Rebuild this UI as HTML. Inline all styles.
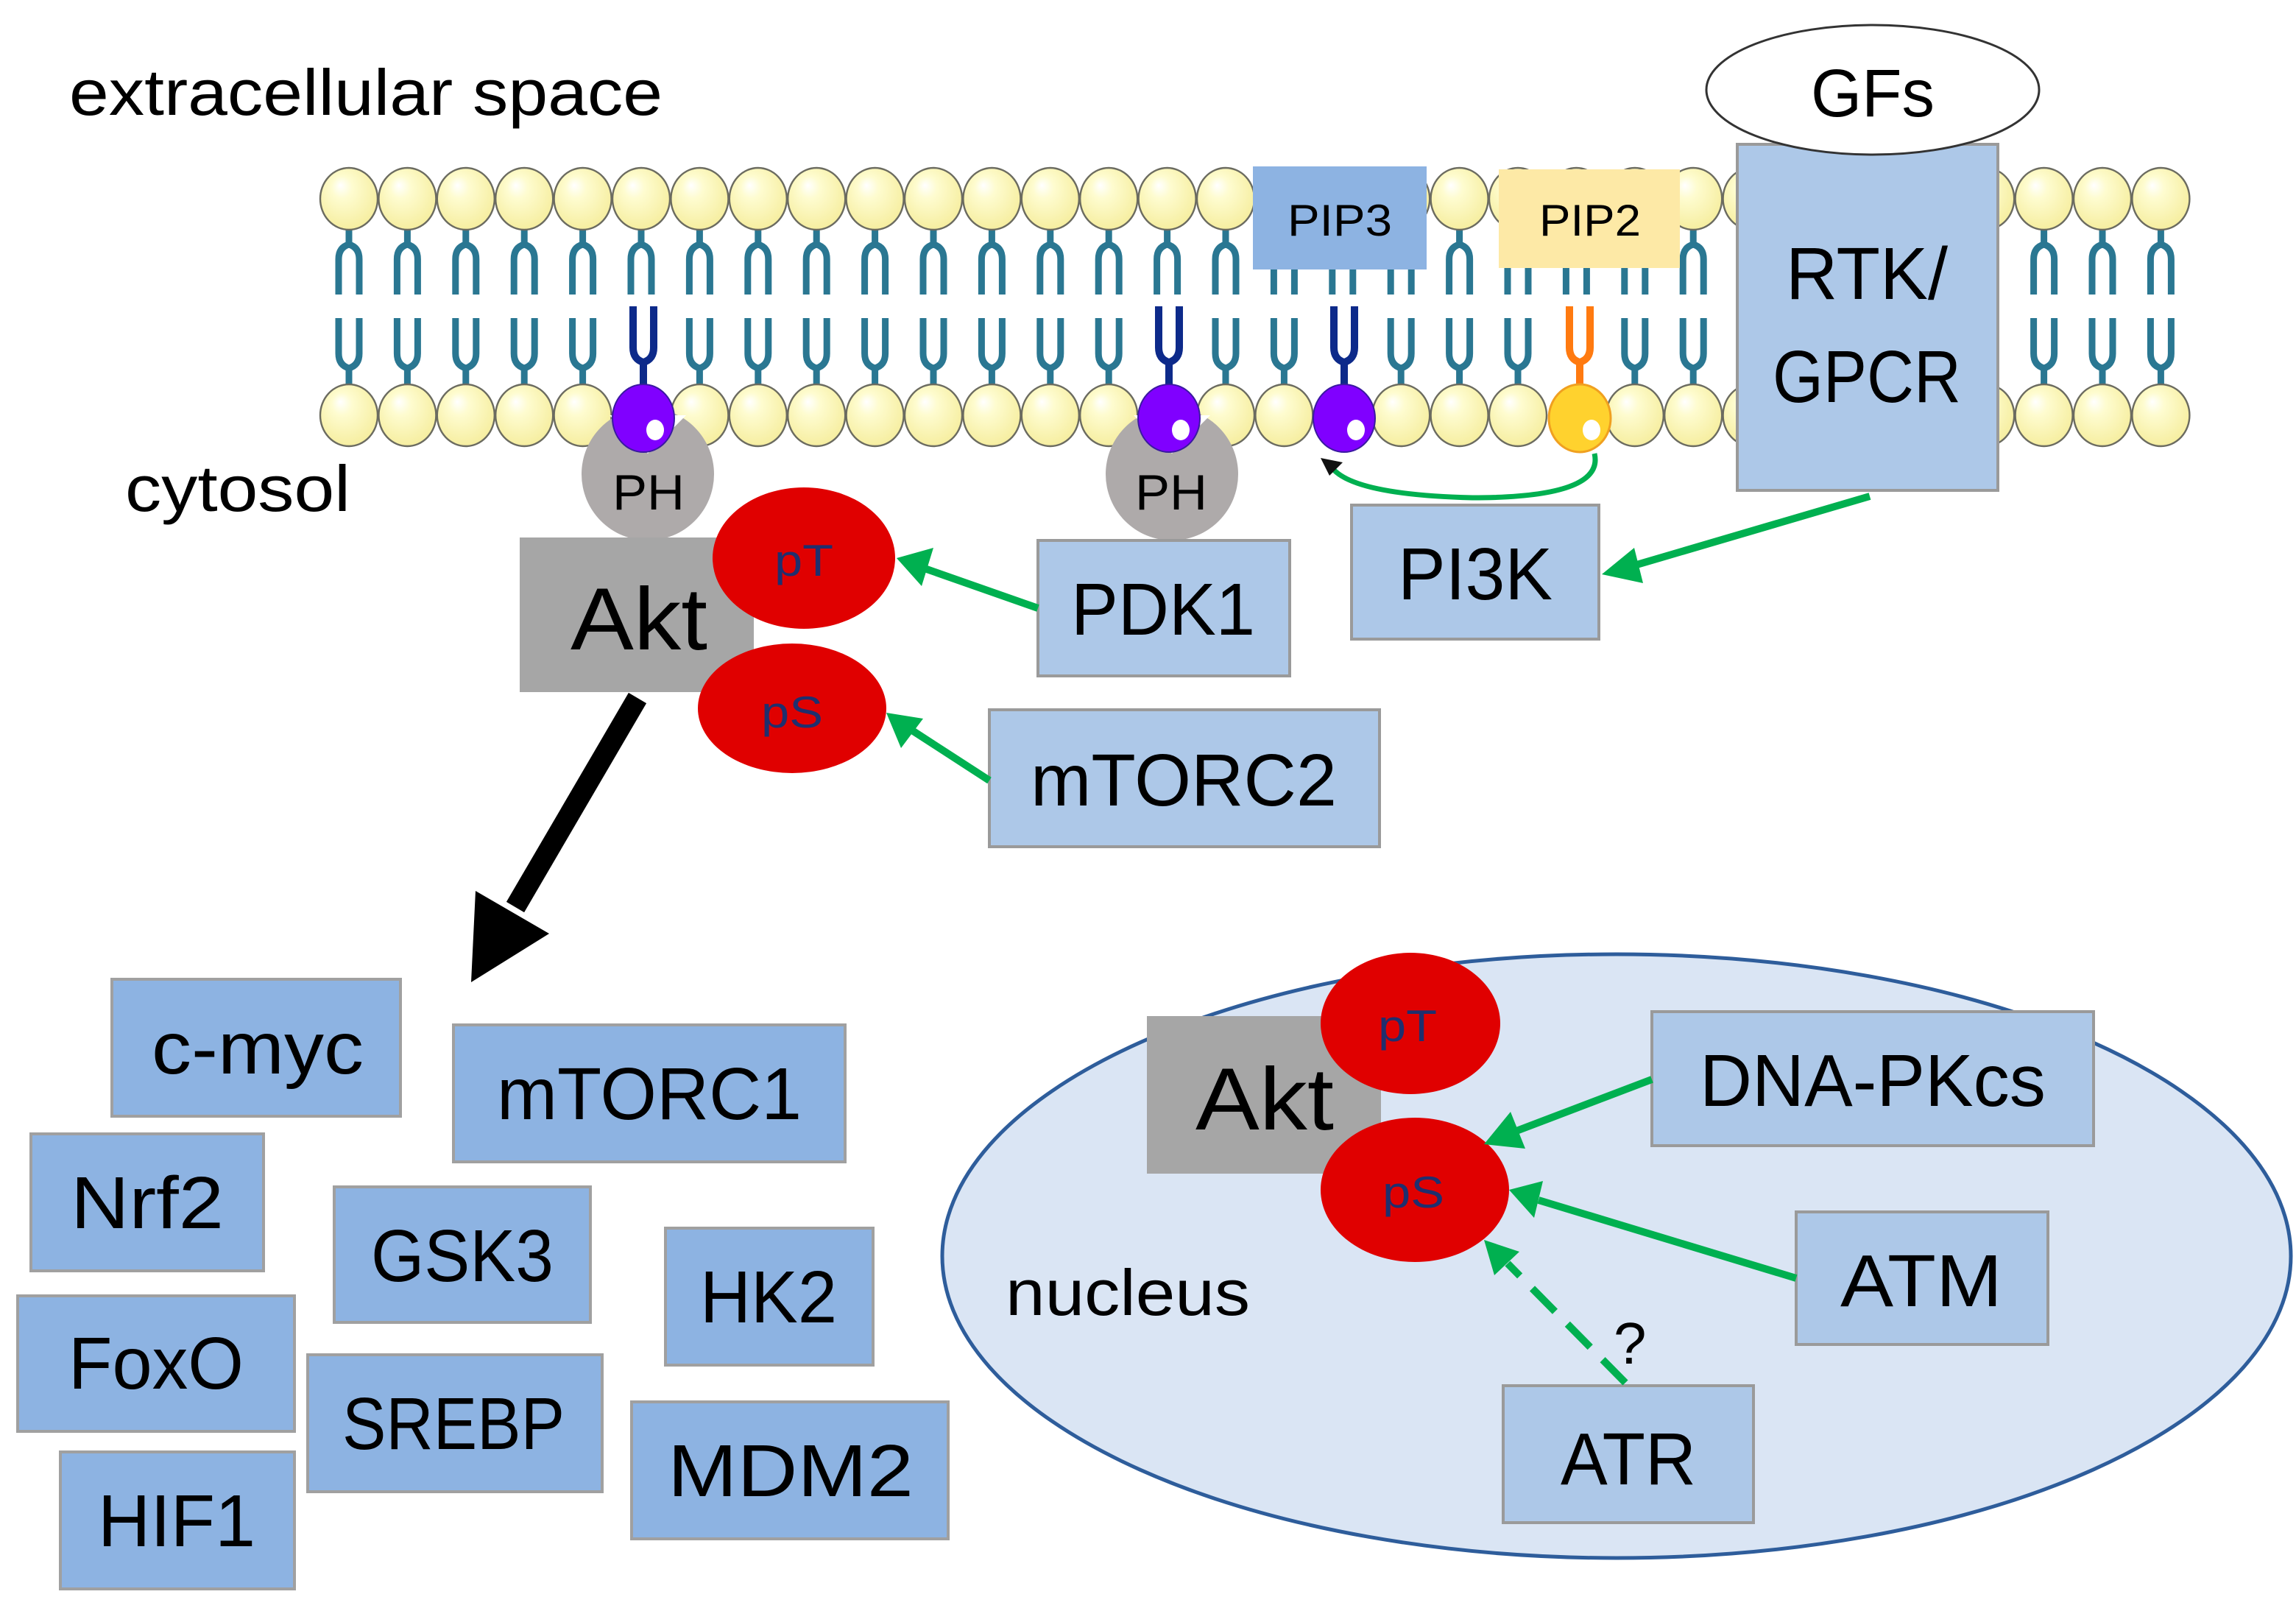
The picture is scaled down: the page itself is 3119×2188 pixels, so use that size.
<!DOCTYPE html>
<html><head><meta charset="utf-8"><style>html,body{margin:0;padding:0;background:#fff}svg{display:block}</style></head>
<body>
<svg width="3119" height="2188" viewBox="0 0 1559.5 1094" xmlns="http://www.w3.org/2000/svg" font-family="Liberation Sans, sans-serif">
<defs>
<radialGradient id="hg" cx="0.45" cy="0.4" r="0.6" fx="0.35" fy="0.28">
<stop offset="0" stop-color="#ffffff"/><stop offset="0.3" stop-color="#fefcd0"/><stop offset="1" stop-color="#f6eea0"/></radialGradient>
<g id="lt">
<path d="M0,150 V168 M-7,200 V176 Q-7,168 0,166 Q7,168 7,176 V200" stroke="#2a7792" stroke-width="4.5" fill="none"/>
<ellipse cx="0" cy="135" rx="19.5" ry="21" fill="url(#hg)" stroke="#6b6b60" stroke-width="1.2"/>
</g>
<g id="lb">
<path d="M0,264 V248 M-7,216 V240 Q-7,248 0,250 Q7,248 7,240 V216" stroke="#2a7792" stroke-width="4.5" fill="none"/>
<ellipse cx="0" cy="282" rx="19.5" ry="21" fill="url(#hg)" stroke="#6b6b60" stroke-width="1.2"/>
</g>
<g id="lp">
<path d="M0,268 V244 M-7,208 V236 Q-7,244 0,246 Q7,244 7,236 V208" stroke="#0d2a8a" stroke-width="5" fill="none"/>
<ellipse cx="0" cy="284" rx="21" ry="23" fill="#8000ff" stroke="#3a1aa0" stroke-width="1"/>
<ellipse cx="8" cy="292" rx="6" ry="7" fill="#fff"/>
</g>
</defs>

<text x="47" y="78" font-size="44" textLength="403" lengthAdjust="spacingAndGlyphs">extracellular space</text>
<text x="85" y="347" font-size="44" textLength="153" lengthAdjust="spacingAndGlyphs">cytosol</text>

<g>
<use href="#lt" x="237"/><use href="#lt" x="276.7"/><use href="#lt" x="316.4"/><use href="#lt" x="356.1"/><use href="#lt" x="395.8"/><use href="#lt" x="435.5"/><use href="#lt" x="475.2"/><use href="#lt" x="514.9"/><use href="#lt" x="554.6"/><use href="#lt" x="594.3"/><use href="#lt" x="634"/><use href="#lt" x="673.7"/><use href="#lt" x="713.4"/><use href="#lt" x="753.1"/><use href="#lt" x="792.8"/><use href="#lt" x="832.5"/><use href="#lt" x="872.2"/><use href="#lt" x="911.9"/><use href="#lt" x="951.6"/><use href="#lt" x="991.3"/><use href="#lt" x="1031"/><use href="#lt" x="1070.7"/><use href="#lt" x="1110.4"/><use href="#lt" x="1150.1"/><use href="#lt" x="1189.8"/><use href="#lt" x="1229.5"/><use href="#lt" x="1269.2"/><use href="#lt" x="1308.9"/><use href="#lt" x="1348.6"/><use href="#lt" x="1388.3"/><use href="#lt" x="1428"/><use href="#lt" x="1467.7"/>
<use href="#lb" x="237"/><use href="#lb" x="276.7"/><use href="#lb" x="316.4"/><use href="#lb" x="356.1"/><use href="#lb" x="395.8"/><use href="#lb" x="475.2"/><use href="#lb" x="514.9"/><use href="#lb" x="554.6"/><use href="#lb" x="594.3"/><use href="#lb" x="634"/><use href="#lb" x="673.7"/><use href="#lb" x="713.4"/><use href="#lb" x="753.1"/><use href="#lb" x="832.5"/><use href="#lb" x="872.2"/><use href="#lb" x="951.6"/><use href="#lb" x="991.3"/><use href="#lb" x="1031"/><use href="#lb" x="1110.4"/><use href="#lb" x="1150.1"/><use href="#lb" x="1189.8"/><use href="#lb" x="1229.5"/><use href="#lb" x="1269.2"/><use href="#lb" x="1308.9"/><use href="#lb" x="1348.6"/><use href="#lb" x="1388.3"/><use href="#lb" x="1428"/><use href="#lb" x="1467.7"/>
</g>

<circle cx="440" cy="322" r="45" fill="#aeaaaa"/>
<circle cx="796" cy="322" r="45" fill="#aeaaaa"/>
<path d="M414,282 L440,308 L466,282 Z" fill="#fff"/>
<path d="M770,282 L796,308 L822,282 Z" fill="#fff"/>
<use href="#lp" x="437"/>
<use href="#lp" x="794"/>
<use href="#lp" x="913"/>
<path d="M1073,268 V244 M1066,208 V236 Q1066,244 1073,246 Q1080,244 1080,236 V208" stroke="#ff7a10" stroke-width="5" fill="none"/>
<ellipse cx="1073" cy="284" rx="21" ry="23" fill="#ffd22e" stroke="#f0a020" stroke-width="1.5"/>
<ellipse cx="1081" cy="292" rx="6" ry="7" fill="#fff"/>
<text x="416" y="346" font-size="34" textLength="49" lengthAdjust="spacingAndGlyphs">PH</text>
<text x="771" y="346" font-size="34" textLength="49" lengthAdjust="spacingAndGlyphs">PH</text>

<rect x="851" y="113" width="118" height="70" fill="#8db3e2"/>
<text x="910" y="160" font-size="30" text-anchor="middle" textLength="71" lengthAdjust="spacingAndGlyphs">PIP3</text>
<rect x="1018" y="115" width="123" height="67" fill="#fde9a6"/>
<text x="1080" y="160" font-size="30" text-anchor="middle" textLength="69" lengthAdjust="spacingAndGlyphs">PIP2</text>

<rect x="1180" y="98" width="177" height="235" fill="#adc8e8" stroke="#9a9a9a" stroke-width="2"/>
<text x="1268" y="203" font-size="50" text-anchor="middle" textLength="110" lengthAdjust="spacingAndGlyphs">RTK/</text>
<text x="1268" y="273" font-size="50" text-anchor="middle" textLength="128" lengthAdjust="spacingAndGlyphs">GPCR</text>
<ellipse cx="1272" cy="61" rx="113" ry="44" fill="#fff" stroke="#333" stroke-width="1.5"/>
<text x="1272" y="79" font-size="46" text-anchor="middle" textLength="84" lengthAdjust="spacingAndGlyphs">GFs</text>

<path d="M1083,308 Q1090,338 1000,338 Q920,336 905,318" stroke="#00b050" stroke-width="3.5" fill="none"/>
<path d="M897,311 L912,314 L903,323 Z" fill="#111"/>

<rect x="353" y="365" width="159" height="105" fill="#a6a6a6"/>
<text x="434" y="441" font-size="60" text-anchor="middle" textLength="93" lengthAdjust="spacingAndGlyphs">Akt</text>
<ellipse cx="546" cy="379" rx="62" ry="48" fill="#e00000"/>
<text x="546" y="391" font-size="30" fill="#1f2f6e" text-anchor="middle" textLength="40" lengthAdjust="spacingAndGlyphs">pT</text>
<ellipse cx="538" cy="481" rx="64" ry="44" fill="#e00000"/>
<text x="538" y="494" font-size="30" fill="#1f2f6e" text-anchor="middle" textLength="42" lengthAdjust="spacingAndGlyphs">pS</text>

<rect x="705" y="367" width="171" height="92" fill="#adc8e8" stroke="#9a9a9a" stroke-width="2"/>
<text x="790" y="431" font-size="50" text-anchor="middle" textLength="125" lengthAdjust="spacingAndGlyphs">PDK1</text>
<rect x="918" y="343" width="168" height="91" fill="#adc8e8" stroke="#9a9a9a" stroke-width="2"/>
<text x="1002" y="407" font-size="50" text-anchor="middle" textLength="105" lengthAdjust="spacingAndGlyphs">PI3K</text>
<rect x="672" y="482" width="265" height="93" fill="#adc8e8" stroke="#9a9a9a" stroke-width="2"/>
<text x="804" y="547" font-size="50" text-anchor="middle" textLength="208" lengthAdjust="spacingAndGlyphs">mTORC2</text>

<line x1="705" y1="413" x2="628" y2="386" stroke="#00b050" stroke-width="5"/>
<path d="M609,379 L634,372 L626,398 Z" fill="#00b050"/>
<line x1="672" y1="530" x2="618" y2="495" stroke="#00b050" stroke-width="5"/>
<path d="M602,484 L627,488 L612,508 Z" fill="#00b050"/>
<line x1="1270" y1="337" x2="1110" y2="384" stroke="#00b050" stroke-width="5"/>
<path d="M1088,390 L1110,372 L1116,396 Z" fill="#00b050"/>

<line x1="433" y1="474" x2="350" y2="616" stroke="#000" stroke-width="14"/>
<path d="M320,667 L323,605 L373,634 Z" fill="#000"/>

<g fill="#8db3e2" stroke="#a0a0a0" stroke-width="2">
<rect x="76" y="665" width="196" height="93"/>
<rect x="308" y="696" width="266" height="93"/>
<rect x="21" y="770" width="158" height="93"/>
<rect x="227" y="806" width="174" height="92"/>
<rect x="452" y="834" width="141" height="93"/>
<rect x="12" y="880" width="188" height="92"/>
<rect x="209" y="920" width="200" height="93"/>
<rect x="429" y="952" width="215" height="93"/>
<rect x="41" y="986" width="159" height="93"/>
</g>
<g font-size="50" text-anchor="middle">
<text x="175" y="729" textLength="144" lengthAdjust="spacingAndGlyphs">c-myc</text>
<text x="441" y="760" textLength="207" lengthAdjust="spacingAndGlyphs">mTORC1</text>
<text x="100" y="834" textLength="104" lengthAdjust="spacingAndGlyphs">Nrf2</text>
<text x="314" y="870" textLength="124" lengthAdjust="spacingAndGlyphs">GSK3</text>
<text x="522" y="898" textLength="93" lengthAdjust="spacingAndGlyphs">HK2</text>
<text x="106" y="943" textLength="119" lengthAdjust="spacingAndGlyphs">FoxO</text>
<text x="308" y="984" textLength="151" lengthAdjust="spacingAndGlyphs">SREBP</text>
<text x="537" y="1016" textLength="167" lengthAdjust="spacingAndGlyphs">MDM2</text>
<text x="120" y="1050" textLength="107" lengthAdjust="spacingAndGlyphs">HIF1</text>
</g>

<ellipse cx="1098" cy="853" rx="458" ry="205" fill="#dae5f4" stroke="#2e5d9b" stroke-width="2.5"/>
<text x="683" y="893" font-size="44" textLength="166" lengthAdjust="spacingAndGlyphs">nucleus</text>
<rect x="779" y="690" width="159" height="107" fill="#a6a6a6"/>
<text x="859" y="767" font-size="60" text-anchor="middle" textLength="94" lengthAdjust="spacingAndGlyphs">Akt</text>
<ellipse cx="958" cy="695" rx="61" ry="48" fill="#e00000"/>
<text x="956" y="707" font-size="30" fill="#1f2f6e" text-anchor="middle" textLength="40" lengthAdjust="spacingAndGlyphs">pT</text>
<ellipse cx="961" cy="808" rx="64" ry="49" fill="#e00000"/>
<text x="960" y="820" font-size="30" fill="#1f2f6e" text-anchor="middle" textLength="42" lengthAdjust="spacingAndGlyphs">pS</text>

<rect x="1122" y="687" width="300" height="91" fill="#adc8e8" stroke="#9a9a9a" stroke-width="2"/>
<text x="1272" y="751" font-size="50" text-anchor="middle" textLength="235" lengthAdjust="spacingAndGlyphs">DNA-PKcs</text>
<rect x="1220" y="823" width="171" height="90" fill="#adc8e8" stroke="#9a9a9a" stroke-width="2"/>
<text x="1305" y="887" font-size="50" text-anchor="middle" textLength="110" lengthAdjust="spacingAndGlyphs">ATM</text>
<rect x="1021" y="941" width="170" height="93" fill="#adc8e8" stroke="#9a9a9a" stroke-width="2"/>
<text x="1106" y="1008" font-size="50" text-anchor="middle" textLength="92" lengthAdjust="spacingAndGlyphs">ATR</text>

<line x1="1122" y1="733" x2="1030" y2="768" stroke="#00b050" stroke-width="5"/>
<path d="M1008,777 L1026,755 L1036,780 Z" fill="#00b050"/>
<line x1="1220" y1="868" x2="1045" y2="815" stroke="#00b050" stroke-width="5"/>
<path d="M1025,808 L1048,802 L1042,827 Z" fill="#00b050"/>
<line x1="1104" y1="939" x2="1024" y2="858" stroke="#00b050" stroke-width="5" stroke-dasharray="22,12"/>
<path d="M1008,842 L1032,850 L1015,866 Z" fill="#00b050"/>
<text x="1096" y="926" font-size="40">?</text>
</svg>
</body></html>
